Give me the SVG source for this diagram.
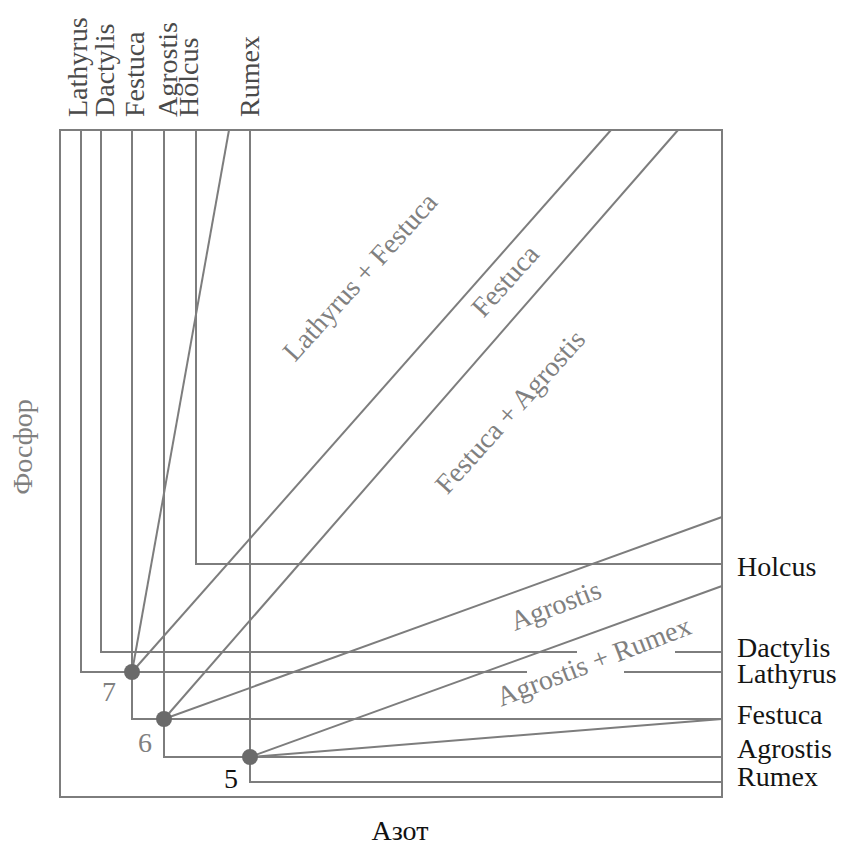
<svg xmlns="http://www.w3.org/2000/svg" width="843" height="846" viewBox="0 0 843 846">
<style>
.ln{stroke:#7d7d7d;stroke-width:2;fill:none}
.dot{fill:#6a6a6a}
text{font-family:"Liberation Serif","Times New Roman",serif;font-size:28px}
.top{fill:#4a4a4a}
.rt{fill:#141414}
.reg{fill:#808080}
.num{fill:#808080}
</style>
<rect width="843" height="846" fill="#ffffff"/>
<g id="connectors">
<rect class="ln" x="60" y="130" width="662" height="667"/>
<polyline class="ln" points="81,130 81,672 527,672"/>
<line class="ln" x1="624" y1="672" x2="722" y2="672"/>
<polyline class="ln" points="101,130 101,652 577,652"/>
<line class="ln" x1="675" y1="652" x2="722" y2="652"/>
<polyline class="ln" points="132,130 132,719 722,719"/>
<polyline class="ln" points="164,130 164,757 722,757"/>
<polyline class="ln" points="196,130 196,564 722,564"/>
<polyline class="ln" points="250,130 250,782 722,782"/>
<line class="ln" x1="132" y1="672" x2="229" y2="130"/>
<line class="ln" x1="132" y1="672" x2="611" y2="130"/>
<line class="ln" x1="164" y1="719" x2="678" y2="130"/>
<line class="ln" x1="164" y1="719" x2="722" y2="517"/>
<line class="ln" x1="250" y1="757" x2="722" y2="586"/>
<line class="ln" x1="250" y1="757" x2="722" y2="719"/>
</g>
<g id="point7"><circle class="dot" cx="132" cy="672" r="8"/><text class="num" x="109" y="701" text-anchor="middle">7</text></g>
<g id="point6"><circle class="dot" cx="164" cy="719" r="8"/><text class="num" x="145" y="752" text-anchor="middle">6</text></g>
<g id="point5"><circle class="dot" cx="250" cy="757" r="8"/><text x="231" y="788" text-anchor="middle" fill="#111">5</text></g>
<g id="top-labels">
<text class="top" transform="translate(87,117) rotate(-90)">Lathyrus</text>
<text class="top" transform="translate(114,117) rotate(-90)">Dactylis</text>
<text class="top" transform="translate(144,117) rotate(-90)">Festuca</text>
<text class="top" transform="translate(177,117) rotate(-90)">Agrostis</text>
<text class="top" transform="translate(198,117) rotate(-90)">Holcus</text>
<text class="top" transform="translate(259,117) rotate(-90)">Rumex</text>
</g>
<g id="right-labels">
<text class="rt" x="737" y="576">Holcus</text>
<text class="rt" x="737" y="657">Dactylis</text>
<text class="rt" x="737" y="683">Lathyrus</text>
<text class="rt" x="737" y="724">Festuca</text>
<text class="rt" x="737" y="758">Agrostis</text>
<text class="rt" x="737" y="786">Rumex</text>
</g>
<g id="region-labels">
<text class="reg" text-anchor="middle" transform="translate(367,283) rotate(-48)">Lathyrus + Festuca</text>
<text class="reg" text-anchor="middle" transform="translate(512,287) rotate(-48)">Festuca</text>
<text class="reg" text-anchor="middle" transform="translate(517,418) rotate(-48)">Festuca + Agrostis</text>
<text class="reg" text-anchor="middle" transform="translate(559,614) rotate(-21)">Agrostis</text>
<text class="reg" text-anchor="middle" transform="translate(597,670) rotate(-21)">Agrostis + Rumex</text>
</g>
<g id="axis-labels">
<text class="num" text-anchor="middle" transform="translate(32,447) rotate(-90)">Фосфор</text>
<text x="400" y="840" text-anchor="middle" fill="#111">Азот</text>
</g>
</svg>
